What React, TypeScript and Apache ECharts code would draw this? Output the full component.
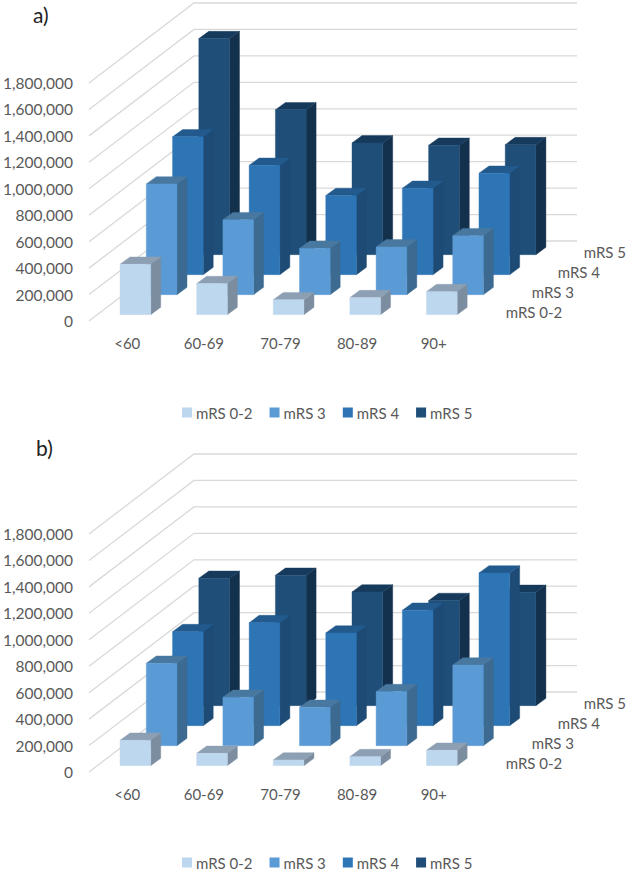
import React, { useEffect, useRef } from "react";
import * as echarts from "echarts";

const categories = ["<60", "60-69", "70-79", "80-89", "90+"];
const seriesNames = ["mRS 0-2", "mRS 3", "mRS 4", "mRS 5"];
const ticks = [0, 200000, 400000, 600000, 800000, 1000000, 1200000, 1400000, 1600000, 1800000];

const a_mRS02 = [381000, 235000, 113000, 129000, 174000];
const a_mRS3 = [837000, 567000, 350000, 361000, 446000];
const a_mRS4 = [1042000, 827000, 598000, 653000, 767000];
const a_mRS5 = [1634000, 1095000, 845000, 827000, 832000];

const b_mRS02 = [192000, 93000, 43000, 68000, 116000];
const b_mRS3 = [623000, 366000, 290000, 409000, 610000];
const b_mRS4 = [711000, 779000, 701000, 873000, 1155000];
const b_mRS5 = [963000, 986000, 860000, 795000, 857000];

const frontColors = ["#BDD7EE", "#5B9BD5", "#2E75B6", "#1F4E79"];
const topColors = ["#8D9FB3", "#48789F", "#225A8E", "#163A5B"];
const sideColors = ["#7C8D9F", "#3C6A90", "#1D4B75", "#13304D"];

const TEXT = "#595959";
const FONT = "Lato";
const DEPTH_X = 105;
const DEPTH_Y = 80;
const STEP_X = DEPTH_X / 4;
const STEP_Y = DEPTH_Y / 4;
const BAR_W = 30.7;
const BAR_DX = 10;
const BAR_DY = 7.3;

function barSeries(gridIndex: number, i: number, values: number[]) {
  return {
    type: "custom",
    name: seriesNames[i],
    xAxisIndex: gridIndex,
    yAxisIndex: gridIndex,
    coordinateSystem: "cartesian2d",
    silent: true,
    z: 5,
    itemStyle: { color: frontColors[i] },
    encode: { x: 0, y: 1 },
    data: values.map((v, c) => [c, v]),
    renderItem: (_p: any, api: any) => {
      const base = api.coord([api.value(0), 0]);
      const top = api.coord([api.value(0), api.value(1)]);
      const ox = (i + 0.5) * STEP_X - BAR_DX / 2;
      const oy = -(i + 0.5) * STEP_Y + BAR_DY / 2;
      const l = base[0] + ox - BAR_W / 2;
      const r = l + BAR_W;
      const b = base[1] + oy;
      const t = top[1] + oy;
      const poly = (points: number[][], fill: string) => ({
        type: "polygon",
        shape: { points },
        style: { fill, stroke: fill, lineWidth: 0.4 },
      });
      return {
        type: "group",
        children: [
          poly([[r, b], [r + BAR_DX, b - BAR_DY], [r + BAR_DX, t - BAR_DY], [r, t]], sideColors[i]),
          poly([[l, t], [r, t], [r + BAR_DX, t - BAR_DY], [l + BAR_DX, t - BAR_DY]], topColors[i]),
          poly([[l, b], [r, b], [r, t], [l, t]], frontColors[i]),
        ],
      };
    },
  };
}

function wallSeries(gridIndex: number) {
  return {
    type: "custom",
    name: "walls" + gridIndex,
    xAxisIndex: gridIndex,
    yAxisIndex: gridIndex,
    coordinateSystem: "cartesian2d",
    silent: true,
    z: 1,
    encode: { x: 0, y: 1 },
    data: ticks.map((t) => [0, t]),
    renderItem: (_p: any, api: any) => {
      const band = api.size([1, 0])[0];
      const p = api.coord([api.value(0), api.value(1)]);
      const x0 = p[0] - band / 2;
      const x1 = x0 + DEPTH_X;
      const y1 = p[1] - DEPTH_Y;
      return {
        type: "polyline",
        shape: { points: [[x0, p[1]], [x1, y1], [x0 + band * categories.length + DEPTH_X, y1]] },
        style: { fill: "none", stroke: "#D9D9D9", lineWidth: 1.3 },
      };
    },
  };
}

function depthLabelSeries(gridIndex: number) {
  return {
    type: "custom",
    name: "depth" + gridIndex,
    xAxisIndex: gridIndex,
    yAxisIndex: gridIndex,
    coordinateSystem: "cartesian2d",
    silent: true,
    z: 6,
    encode: { x: 0, y: 1 },
    data: seriesNames.map(() => [categories.length - 1, 0]),
    renderItem: (p: any, api: any) => {
      const band = api.size([1, 0])[0];
      const c = api.coord([api.value(0), api.value(1)]);
      const i = p.dataIndex;
      return {
        type: "text",
        style: {
          text: seriesNames[i],
          x: c[0] + band / 2 + 33.7 + i * 26,
          y: c[1] - 9.3 - i * 20,
          fill: TEXT,
          font: "15px " + FONT,
          align: "left",
          verticalAlign: "middle",
        },
      };
    },
  };
}

const fmt = (v: number) => String(v).replace(/\B(?=(\d{3})+$)/g, ",");

const tops = [83, 534];
const legendTops = [405, 855];

function axes() {
  return {
    grid: tops.map((top) => ({ left: 87, top, width: 385, height: 238 })),
    xAxis: tops.map((_, g) => ({
      type: "category",
      gridIndex: g,
      data: categories,
      axisLine: { show: false },
      axisTick: { show: false },
      splitLine: { show: false },
      axisLabel: { color: TEXT, fontFamily: FONT, fontSize: 15, margin: 14, interval: 0 },
    })),
    yAxis: tops.map((_, g) => ({
      type: "value",
      gridIndex: g,
      min: 0,
      max: 1800000,
      interval: 200000,
      axisLine: { show: false },
      axisTick: { show: false },
      splitLine: { show: false },
      axisLabel: { color: TEXT, fontFamily: FONT, fontSize: 15.5, margin: 16, formatter: fmt },
    })),
  };
}

export default function App() {
  const ref = useRef<HTMLDivElement>(null);
  useEffect(() => {
    const chart = echarts.init(ref.current!, undefined, { renderer: "svg" });
    const dataA = [a_mRS02, a_mRS3, a_mRS4, a_mRS5];
    const dataB = [b_mRS02, b_mRS3, b_mRS4, b_mRS5];
    const series: any[] = [wallSeries(0), wallSeries(1)];
    for (let i = 3; i >= 0; i--) {
      series.push(barSeries(0, i, dataA[i]));
      series.push(barSeries(1, i, dataB[i]));
    }
    series.push(depthLabelSeries(0), depthLabelSeries(1));
    chart.setOption({
      animation: false,
      backgroundColor: "#FFFFFF",
      ...axes(),
      legend: legendTops.map((top) => ({
        top,
        left: 182,
        padding: 0,
        data: seriesNames,
        icon: "rect",
        itemWidth: 10,
        itemHeight: 10,
        itemGap: 17,
        selectedMode: false,
        textStyle: { color: TEXT, fontFamily: FONT, fontSize: 15, padding: [0, 0, 0, -1] },
      })),
      graphic: [
        { type: "text", left: 33, top: 4, style: { text: "a)", fill: "#222222", font: "21px " + FONT } },
        { type: "text", left: 36, top: 437, style: { text: "b)", fill: "#222222", font: "21px " + FONT } },
      ],
      series,
    });
    return () => chart.dispose();
  }, []);
  return (
    <div
      ref={ref}
      style={{ position: "absolute", left: 0, top: 0, width: 630, height: 873 }}
    />
  );
}
